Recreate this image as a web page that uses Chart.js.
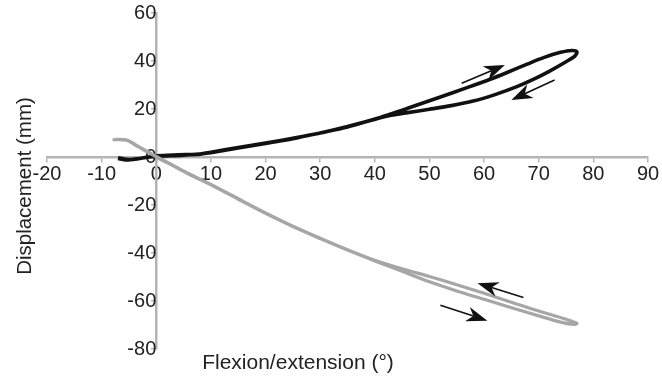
<!DOCTYPE html>
<html>
<head>
<meta charset="utf-8">
<script src="https://cdn.jsdelivr.net/npm/chart.js@4/dist/chart.umd.min.js"></script>
<style>
  body { margin: 0; background: #fff; }
  canvas { display: block; }
</style>
</head>
<body>
<canvas id="loopChart" width="662" height="377"></canvas>
<script>
// Black loop (goes out along the upper branch, back along the lower one)
const blackX = [-7, -5.5, -3.5, -1.5, 0, 4, 8, 10, 15, 20, 25, 30, 35, 41,
  45, 48, 52, 57, 61, 64, 68, 71, 74, 76, 77, 76.6,
  75, 72, 69, 66, 62, 58, 54, 50, 46, 43, 41,
  35, 30, 25, 20, 15, 10, 5, 0, -3, -5.5, -7];
const blackY = [-0.3, -1, -0.8, 0, 0.5, 0.9, 1.2, 2, 4, 5.8, 7.8, 10, 12.7, 16.5,
  19.5, 21.9, 25, 29, 32.3, 35, 38.8, 41.5, 43.6, 44.4, 43.8, 42,
  39.7, 35.8, 32.3, 29.3, 26, 23.3, 21.4, 19.9, 18.5, 17.4, 16.4,
  12.5, 10, 7.6, 5.6, 3.8, 1.8, 0.8, 0.3, -0.6, -1.2, -0.6];

// Grey loop (goes out along the lower branch, back along the upper one)
const grayX = [-8, -5.5, -4, -2, 0, 3, 6, 10, 15, 20, 25, 30, 35, 40, 45,
  50, 55, 60, 65, 70, 74, 76.5, 77,
  75, 70, 65, 60, 55, 50, 45, 40, 35, 30, 25, 20, 15, 10, 6, 3, 0, -2, -4, -5.5, -7.5];
const grayY = [7.2, 7, 5.2, 2.6, 0, -3.6, -7.2, -11.6, -17.6, -23.5, -29, -34, -38.8, -43.3, -47.6,
  -52, -55.8, -59.3, -62.8, -66.2, -68.8, -69.8, -69.3,
  -67.6, -64.2, -60.5, -56.8, -53.2, -49.8, -46.6, -43, -38.6, -33.8, -28.8, -23.3, -17.4, -11.4, -7, -3.4, 0.2, 2.8, 5.4, 7.2, 7.4];

// Direction arrows: [tailX, tailY, headX, headY] in data units
const arrows = [
  [55.9, 30.7, 63.8, 38.3],
  [72.9, 32.1, 65, 23.75],
  [67.2, -58.5, 58.8, -52.6],
  [52, -61.8, 60.6, -68.2]
];

const xTitle = "Flexion/extension (°)";
const yTitle = "Displacement (mm)";

function toPoints(xs, ys) {
  return xs.map((x, i) => ({ x: x, y: ys[i] }));
}

const axisColor = "#b4b4b4";
const textColor = "#222";
const fontFamily = "'Liberation Sans', Arial, sans-serif";

// Draws the arrows and the two axis titles
const extrasPlugin = {
  id: "extras",
  afterDatasetsDraw(chart) {
    const ctx = chart.ctx;
    const xs = chart.scales.x;
    const ys = chart.scales.y;

    ctx.save();
    ctx.strokeStyle = "#111";
    ctx.fillStyle = "#111";
    ctx.lineWidth = 1.6;
    arrows.forEach((a) => {
      const x1 = xs.getPixelForValue(a[0]);
      const y1 = ys.getPixelForValue(a[1]);
      const x2 = xs.getPixelForValue(a[2]);
      const y2 = ys.getPixelForValue(a[3]);
      const ang = Math.atan2(y2 - y1, x2 - x1);
      const len = 21;
      const half = 7.5;
      const cos = Math.cos(ang);
      const sin = Math.sin(ang);
      ctx.beginPath();
      ctx.moveTo(x1, y1);
      ctx.lineTo(x2 - len * 0.7 * cos, y2 - len * 0.7 * sin);
      ctx.stroke();
      const nx = -sin;
      const ny = cos;
      const bx = x2 - len * cos;
      const by = y2 - len * sin;
      const notchX = x2 - len * 0.7 * cos;
      const notchY = y2 - len * 0.7 * sin;
      ctx.beginPath();
      ctx.moveTo(x2, y2);
      ctx.lineTo(bx + nx * half, by + ny * half);
      ctx.lineTo(notchX, notchY);
      ctx.lineTo(bx - nx * half, by - ny * half);
      ctx.closePath();
      ctx.fill();
    });

    ctx.fillStyle = textColor;
    ctx.textAlign = "center";
    ctx.textBaseline = "middle";
    ctx.font = "21px " + fontFamily;
    ctx.fillText(xTitle, 298, 363);

    ctx.font = "20.5px " + fontFamily;
    ctx.translate(25, 186);
    ctx.rotate(-Math.PI / 2);
    ctx.fillText(yTitle, 0, 0);
    ctx.restore();
  }
};

// keep the tick padding from pushing the plot area inwards
function noEdgePadding(scale) {
  scale.paddingTop = 0;
  scale.paddingBottom = 0;
  scale.paddingLeft = 0;
  scale.paddingRight = 0;
}

new Chart(document.getElementById("loopChart"), {
  type: "scatter",
  data: {
    datasets: [
      {
        data: toPoints(grayX, grayY),
        showLine: true,
        borderColor: "#a6a6a6",
        borderWidth: 3.2,
        pointRadius: 0,
        tension: 0.3
      },
      {
        data: toPoints(blackX, blackY),
        showLine: true,
        borderColor: "#111",
        borderWidth: 3.6,
        pointRadius: 0,
        tension: 0.3
      }
    ]
  },
  options: {
    responsive: false,
    animation: false,
    layout: {
      padding: { left: 47, right: 14, top: 13, bottom: 28 }
    },
    plugins: {
      legend: { display: false },
      tooltip: { enabled: false }
    },
    scales: {
      x: {
        type: "linear",
        min: -20,
        max: 90,
        position: { y: 0 },
        afterFit: noEdgePadding,
        border: { color: axisColor, width: 2.5 },
        grid: {
          drawOnChartArea: false,
          drawTicks: true,
          tickLength: 4,
          color: axisColor,
          lineWidth: 1.5
        },
        ticks: {
          stepSize: 10,
          padding: 1,
          color: textColor,
          font: { size: 20, family: fontFamily }
        }
      },
      y: {
        type: "linear",
        min: -80,
        max: 60,
        position: { x: 0 },
        afterFit: noEdgePadding,
        border: { color: axisColor, width: 2.5 },
        grid: {
          drawOnChartArea: false,
          drawTicks: true,
          tickLength: 4,
          color: axisColor,
          lineWidth: 1.5
        },
        ticks: {
          stepSize: 20,
          padding: 13,
          color: textColor,
          font: { size: 20, family: fontFamily }
        }
      }
    }
  },
  plugins: [extrasPlugin]
});
</script>
</body>
</html>
